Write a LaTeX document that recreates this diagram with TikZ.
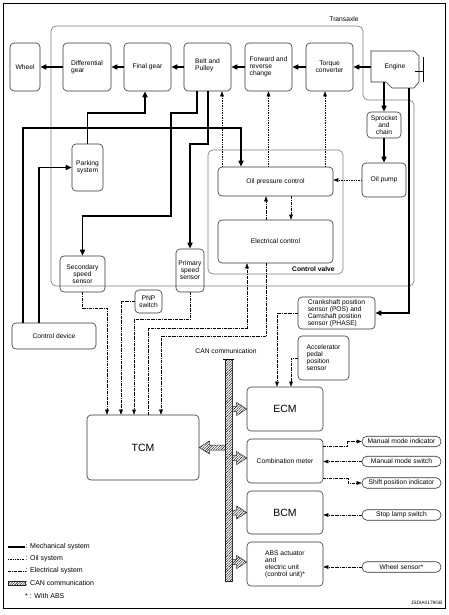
\documentclass[tikz,border=0pt]{standalone}
\usepackage{fontspec}
\setmainfont{Liberation Sans}
\usetikzlibrary{arrows.meta,patterns.meta,calc}
\begin{document}
\begin{tikzpicture}[x=1pt,y=-1pt,
  every node/.style={font=\fontsize{6.7}{7}\selectfont, inner sep=0.5pt},
  box/.style={draw=black!80, line width=0.6pt, rounded corners=4pt, align=center},
  lbox/.style={box, align=left},
  big/.style={font=\fontsize{10.5}{12}\selectfont},
  pill/.style={draw=black!80, line width=0.6pt, rounded corners=5pt, minimum width=79pt, minimum height=10.5pt},
  grayframe/.style={draw=black!50, line width=0.7pt, rounded corners=5pt},
  mech/.style={line width=1.7pt, -{Triangle[length=6pt,width=5pt]}},
  mechln/.style={line width=1.7pt},
  oil/.style={line width=0.5pt, dash pattern=on 0.8pt off 0.9pt, -{Triangle[length=5pt,width=3.6pt]}},
  oilln/.style={line width=0.5pt, dash pattern=on 0.8pt off 0.9pt},
  elecln/.style={line width=0.5pt, dash pattern=on 3pt off 1pt on 0.6pt off 1pt},
  elec/.style={elecln, -{Triangle[length=5pt,width=3.6pt]}},
  canfill/.style={draw=black!80, line width=0.5pt, fill=white, postaction={pattern={Lines[angle=45,distance=1.8pt,line width=0.4pt]}}},
  pics/canarr/.style={code={\draw[canfill] (0,0) -- (-10,-6.5) -- (-10,-2.5) -- (-#1,-2.5) -- (-#1,2.5) -- (-10,2.5) -- (-10,6.5) -- cycle;}}
]
\useasboundingbox (0,0) rectangle (448,615);
% outer frame
\draw[line width=0.9pt] (3,3) rectangle (445,608);
% transaxle
\draw[grayframe] (51,26) -- (363,26) -- (363,100) -- (414,100) -- (414,286) -- (51,286) -- cycle;
\node at (344,19) {Transaxle};
% control valve
\node[grayframe, minimum width=135pt, minimum height=124pt] (cv) at (275.5,212) {};
\node[anchor=south east, font=\bfseries\fontsize{6.7}{7}\selectfont] at ([xshift=-8pt,yshift=2.5pt]cv.south east) {Control valve};

% top row
\node[box, minimum width=30pt, minimum height=48pt] (wheel) at (25,67) {Wheel};
\node[lbox, minimum width=48pt, minimum height=48pt] (diff) at (87,67) {Differential\\gear};
\node[box, minimum width=47pt, minimum height=48pt] (final) at (147.5,67) {Final gear};
\node[lbox, minimum width=47pt, minimum height=48pt] (belt) at (207.5,67) {Belt and\\Pulley\vphantom{g}\\[-3pt]};
\node[lbox, minimum width=47pt, minimum height=48pt] (fwd) at (268.5,67) {Forward and\\reverse\\change};
\node[box, minimum width=47pt, minimum height=48pt] (torque) at (329.5,67) {Torque\\converter};
% engine
\draw[draw=black!80, line width=0.6pt] (371,51) -- (414,51) -- (419,56) -- (419,82) -- (414,88) -- (392,88) -- (386,82) -- (371,82) -- cycle;
\node[minimum width=48pt, minimum height=31pt] (engine) at (395,66.5) {Engine};
\draw[line width=0.6pt] (423,57) -- (423,82);
\draw[line width=0.6pt] (415,71) -- (423,71);

\node[box, minimum width=34pt, minimum height=26pt] (sprocket) at (384,125) {Sprocket\\and\\chain};
\node[box, minimum width=44pt, minimum height=34pt] (oilpump) at (384,180) {Oil pump};
\node[box, minimum width=115pt, minimum height=29pt] (oilpc) at (275.5,181.5) {Oil pressure control};
\node[box, minimum width=115pt, minimum height=43pt] (ectl) at (275.5,241.5) {Electrical control};
\node[box, minimum width=31pt, minimum height=47pt] (park) at (87.5,167.5) {Parking\\system};
\node[box, minimum width=45pt, minimum height=36pt] (sec) at (82.5,274) {Secondary\\speed\\sensor};
\node[box, minimum width=28pt, minimum height=43pt] (prim) at (190,270.5) {Primary\\speed\\sensor};
\node[box, minimum width=27pt, minimum height=23pt] (pnp) at (148.5,301.5) {PNP\\switch};
\node[box, minimum width=84pt, minimum height=26pt] (cdev) at (54,336) {Control device};
\node[lbox, minimum width=77pt, minimum height=32pt] (crank) at (336.5,313) {Crankshaft position\\sensor (POS) and\\Camshaft position\\sensor (PHASE)};
\node[lbox, minimum width=51pt, minimum height=44pt] (accel) at (323.5,358) {Accelerator\\pedal\\position\\sensor};
\node[box, big, minimum width=76pt, minimum height=44pt] (ecm) at (285,409) {ECM};
\node[box, minimum width=76pt, minimum height=44pt] (combo) at (285,461) {Combination meter};
\node[box, big, minimum width=76pt, minimum height=43pt] (bcm) at (285,512.5) {BCM};
\node[lbox, minimum width=76pt, minimum height=44pt] (abs) at (285,564) {ABS actuator\\and\\electric unit\\(control unit)*};
\node[box, big, minimum width=112pt, minimum height=65pt] (tcm) at (143,447.5) {TCM};
% right pills
\node[pill] (mmi) at (401.5,441.5) {Manual mode indicator};
\node[pill] (mms) at (401.5,461.5) {Manual mode switch};
\node[pill] (spi) at (401.5,483) {Shift position indicator};
\node[pill] (sls) at (401.5,515) {Stop lamp switch};
\node[pill] (ws) at (401.5,567) {Wheel sensor*};

% mechanical
\draw[mech] (engine.west |- torque) -- (torque.east);
\draw[mech] (torque.west) -- (fwd.east);
\draw[mech] (fwd.west) -- (belt.east);
\draw[mech] (belt.west) -- (final.east);
\draw[mech] (final.west) -- (diff.east);
\draw[mech] (diff.west) -- (wheel.east);
\draw[mech] (engine.south -| sprocket.north) -- (sprocket.north);
\draw[mech] (sprocket.south) -- (oilpump.north);
\coordinate (engout) at (409,88);
\draw[mech] (engout) |- (crank.east);
\draw[mech] ([xshift=-10.5pt]belt.south) -- ++(0,22) -| (171,216) -| (sec.north);
\draw[mech] ([xshift=0.5pt]belt.south) -- ++(0,53) -| (prim.north);
\draw[mech] ([xshift=11pt]cdev.north west) |- (241,128) -- ([xshift=-34.5pt]oilpc.north);
\draw[mech] ([xshift=27pt]cdev.north west) |- (park.west);
\draw[mech] (park.north) -- (87.5,113) -| ([xshift=-2.5pt]final.south);

% oil
\draw[oil] (oilpump.west) -- (oilpump.west -| oilpc.east);
\draw[oil] ([xshift=-53.5pt]oilpc.north) -- ([xshift=14.5pt]belt.south);
\draw[oil] (oilpc.north -| fwd.south) -- (fwd.south);
\draw[oil] ([xshift=-4.5pt]torque.south |- oilpc.north) -- ([xshift=-4.5pt]torque.south);

% electrical
\draw[elec] ([xshift=-9.5pt]ectl.north) -- ([xshift=-9.5pt]oilpc.south);
\draw[elec] ([xshift=15.5pt]oilpc.south) -- ([xshift=15.5pt]ectl.north);
\draw[elec] ([xshift=5pt]tcm.north) |- (247,328) -- ([xshift=-28.5pt]ectl.south);
\draw[elec] ([xshift=-9.5pt]ectl.south) |- (161,336) -- ([xshift=18pt]tcm.north);
\draw[elec] (sec.south) -- ++(0,16) -| ([xshift=-36pt]tcm.north);
\draw[elec] (pnp.west) -| ([xshift=-22pt]tcm.north);
\draw[elec] (prim.south) -- ++(0,27) -| ([xshift=-9pt]tcm.north);
\draw[elec] (crank.west) -| ([xshift=-8pt]ecm.north);
\draw[elec] (accel.west) -| ([xshift=6pt]ecm.north);
\draw[elec] ([yshift=15pt]combo.east) -- ++(24,0) |- (mmi.west);
\draw[elec] (mms.west) -- (mms.west -| combo.east);
\draw[elec] ([yshift=-17pt]combo.east) -- ++(25,0) |- (spi.west);
\draw[elec] (sls.west) -- (sls.west -| bcm.east);
\draw[elec] (ws.west) -- (ws.west -| abs.east);

% CAN
\pic at (ecm.west) {canarr=16};
\pic at ([yshift=3pt]combo.west) {canarr=16};
\pic at (bcm.west) {canarr=16};
\pic at ([yshift=2pt]abs.west) {canarr=16};
\pic[rotate=180] at (tcm.east) {canarr=27};
\fill[white] (225,359) rectangle (232,581);
\draw[canfill] (225,359) rectangle (232,581);
\draw[line width=0.6pt] (223,359) -- (234,359);
\node (canlbl) at (226,351.5) {CAN communication};

% legend
\draw[mechln] (8,547) -- (25,547);
\node[anchor=west, font=\fontsize{7}{8}\selectfont] at (25,547) {: Mechanical system};
\draw[oilln] (8,559) -- (25,559);
\node[anchor=west, font=\fontsize{7}{8}\selectfont] at (25,559) {: Oil system};
\draw[elecln] (8,571) -- (25,571);
\node[anchor=west, font=\fontsize{7}{8}\selectfont] at (25,571) {: Electrical system};
\draw[canfill] (8,581) rectangle (25,585);
\node[anchor=west, font=\fontsize{7}{8}\selectfont] at (25,583) {: CAN communication};
\node[anchor=west, font=\fontsize{7}{8}\selectfont] at (24.5,596) {* : With ABS};
\node[anchor=east, font=\fontsize{4.8}{5}\selectfont] at (443,603) {JSDIA0179GB};
\end{tikzpicture}
\end{document}
